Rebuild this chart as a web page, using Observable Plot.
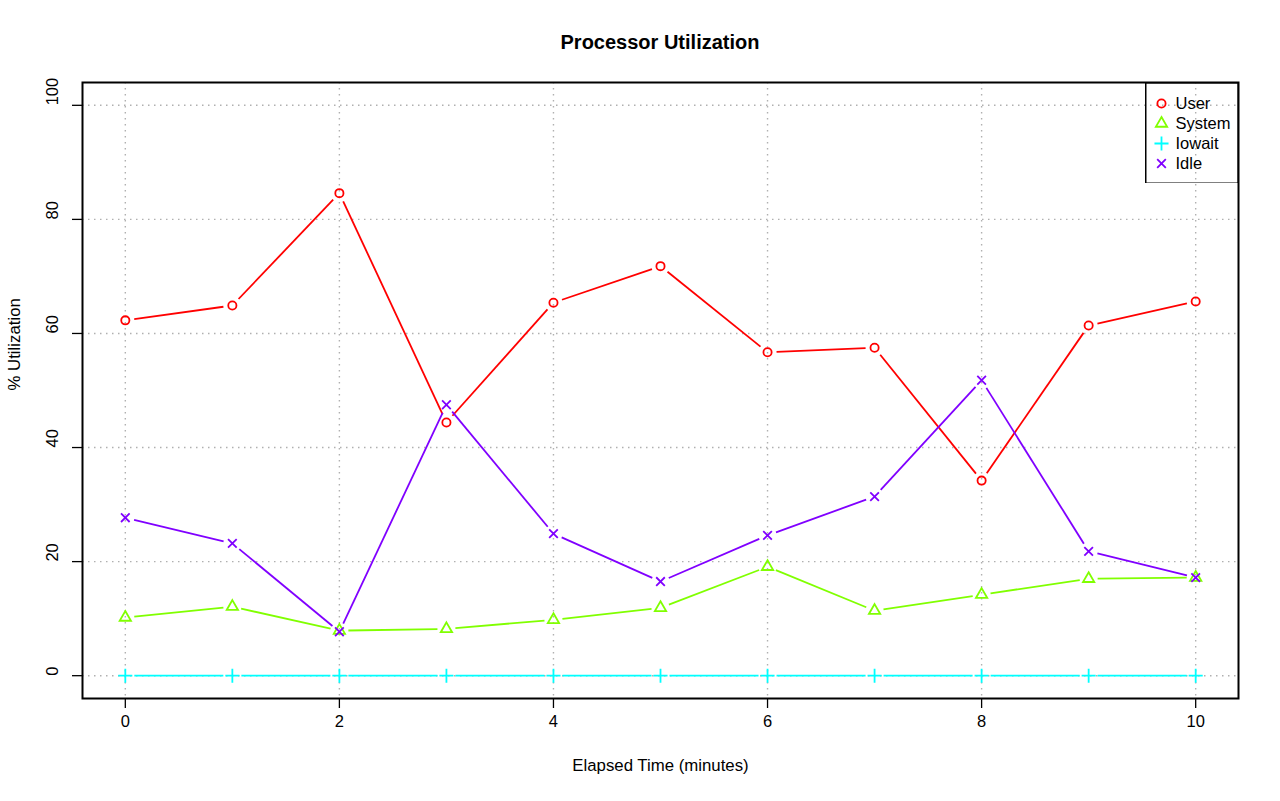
<!DOCTYPE html>
<html>
<head>
<meta charset="utf-8">
<script src="https://cdn.jsdelivr.net/npm/d3@7"></script>
<script src="https://cdn.jsdelivr.net/npm/@observablehq/plot@0.6"></script>
<style>
  html, body { margin: 0; padding: 0; background: #fff; }
  #wrap { position: relative; width: 1280px; height: 801px; font-family: "Liberation Sans", Arial, Helvetica, sans-serif; }
  #title { height: 34px; padding-top: 30px; line-height: 24px; text-align: center; font-weight: bold; font-size: 20px; color: #000; padding-left: 40px; }
  #legend { position: absolute; left: 1145px; top: 82px; }
</style>
</head>
<body>
<div id="wrap">
  <div id="title">Processor Utilization</div>
  <div id="chart"></div>
  <div id="legend"></div>
</div>
<script>
const minutes = [0, 1, 2, 3, 4, 5, 6, 7, 8, 9, 10];
const userVals = [62.3, 64.9, 84.6, 44.4, 65.4, 71.8, 56.7, 57.5, 34.2, 61.4, 65.6];
const systemVals = [10.2, 12.1, 7.9, 8.2, 9.8, 11.9, 19.1, 11.4, 14.2, 17.0, 17.2];
const iowaitVals = [0, 0, 0, 0, 0, 0, 0, 0, 0, 0, 0];
const idleVals = [27.7, 23.2, 7.7, 47.5, 24.9, 16.5, 24.6, 31.4, 51.8, 21.8, 17.2];
const seriesNames = ["User", "System", "Iowait", "Idle"];
const seriesColors = ["#FF0000", "#80FF00", "#00FFFF", "#8000FF"];
const seriesSymbols = ["circle", "triangle", "plus", "times"];
const symbolR = [4.1, 4.2, 4.6, 4];
const xTicks = [0, 2, 4, 6, 8, 10];
const yTicks = [0, 20, 40, 60, 80, 100];

const allVals = [userVals, systemVals, iowaitVals, idleVals];
const points = [];
const segs = [];
seriesNames.forEach((s, si) => {
  minutes.forEach((m, i) => {
    points.push({series: s, x: m, y: allVals[si][i]});
    if (i > 0) segs.push({series: s, x1: minutes[i - 1], y1: allVals[si][i - 1], x2: m, y2: allVals[si][i]});
  });
});

const colorScale = {domain: seriesNames, range: seriesColors};
const fontFamily = "'Liberation Sans', Arial, Helvetica, sans-serif";

const dotMarks = seriesNames.map((s, si) =>
  Plot.dot(points.filter(d => d.series === s), {
    x: "x", y: "y", symbol: seriesSymbols[si], r: symbolR[si],
    stroke: seriesColors[si], fill: "none", strokeWidth: 1.8
  })
);

const chart = Plot.plot({
  width: 1280,
  height: 737,
  marginLeft: 82,
  marginRight: 42,
  marginTop: 18,
  marginBottom: 103,
  style: {fontFamily, fontSize: "16.5px", color: "#000", background: "#fff"},
  x: {domain: [-0.4, 10.4]},
  y: {domain: [-4, 104]},
  color: colorScale,
  marks: [
    Plot.gridX(xTicks, {stroke: "#b0b0b0", strokeOpacity: 1, strokeDasharray: "1.5,4.5", strokeWidth: 1.4}),
    Plot.gridY(yTicks, {stroke: "#b0b0b0", strokeOpacity: 1, strokeDasharray: "1.5,4.5", strokeWidth: 1.4}),
    Plot.arrow(segs, {
      x1: "x1", y1: "y1", x2: "x2", y2: "y2", stroke: "series",
      headLength: 0, insetStart: 9, insetEnd: 9, strokeWidth: 1.8, strokeLinecap: "butt"
    }),
    ...dotMarks,
    Plot.axisX({ticks: xTicks, tickSize: 10, tickPadding: 7, fontSize: 16.5, label: null, stroke: "#000", strokeWidth: 1.3}),
    Plot.axisY({ticks: yTicks, tickSize: 10, tickFormat: () => "", label: null, stroke: "#000", strokeWidth: 1.3}),
    Plot.text(yTicks, {y: d => d, text: d => String(d), frameAnchor: "left", dx: -30, rotate: -90, fontSize: 16.5, fill: "#000"}),
    Plot.text(["Elapsed Time (minutes)"], {frameAnchor: "bottom", dy: 72, fontSize: 16.8, fill: "#000"}),
    Plot.text(["% Utilization"], {frameAnchor: "left", dx: -68, rotate: -90, fontSize: 16.8, fill: "#000"}),
    Plot.frame({stroke: "#000", strokeWidth: 2})
  ]
});
document.getElementById("chart").appendChild(chart);

const legendMarks = seriesNames.map((s, si) =>
  Plot.dot([s], {
    y: d => d, frameAnchor: "left", dx: 16, symbol: seriesSymbols[si], r: symbolR[si],
    stroke: seriesColors[si], fill: "none", strokeWidth: 1.8
  })
);

const legend = Plot.plot({
  width: 93,
  height: 101,
  margin: 0,
  style: {fontFamily, fontSize: "16.5px", color: "#000", background: "transparent"},
  y: {type: "point", domain: seriesNames, range: [21, 81], padding: 0, axis: null},
  marks: [
    ...legendMarks,
    Plot.text(seriesNames, {y: d => d, text: d => d, frameAnchor: "left", dx: 30, textAnchor: "start", fontSize: 16.5, fill: "#000"}),
    Plot.frame({stroke: "#000", strokeWidth: 2})
  ]
});
document.getElementById("legend").appendChild(legend);
</script>
</body>
</html>
